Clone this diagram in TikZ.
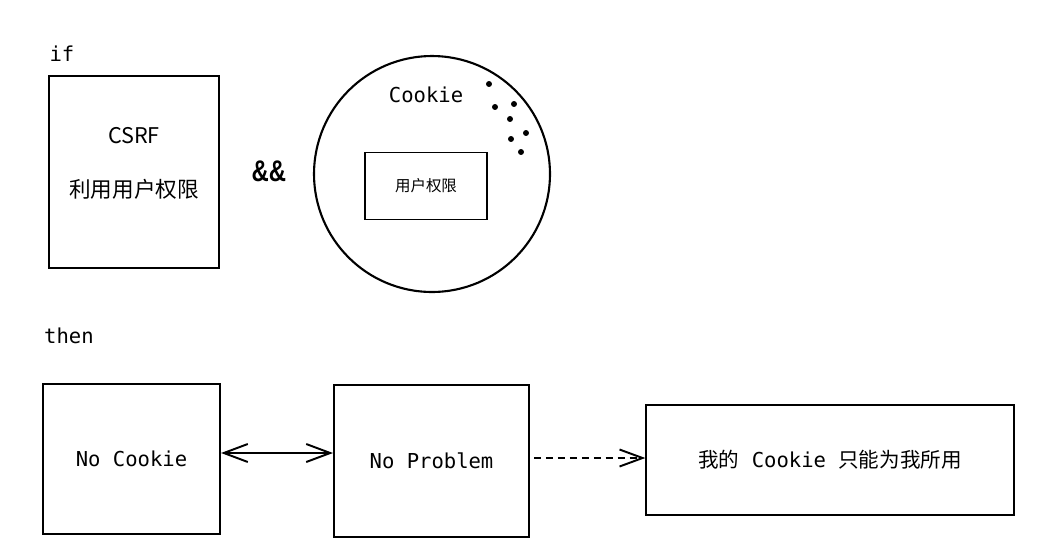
\documentclass[tikz,border=0pt]{standalone}
\usepackage{fontspec}
\setmonofont{DejaVu Sans Mono}
\newfontfamily\cjk{Noto Sans CJK SC}
\newfontfamily\ampfont{Liberation Sans Bold}
\usepackage{tikz}
\usetikzlibrary{arrows.meta}
\usetikzlibrary{calc}

\begin{document}
\begin{tikzpicture}[x=0.02cm,y=-0.02cm,
      box/.style={draw,line width=1.2pt,rectangle,inner sep=0pt},
      thinbox/.style={draw,line width=0.8pt,rectangle,inner sep=0pt},
      mono/.style={font=\ttfamily\fontsize{11.7}{14}\selectfont},
      zh/.style={font=\cjk\fontsize{12.3}{15}\selectfont},
      botharrow/.style={line width=1.1pt,{Straight Barb[length=4.8mm,width=3.6mm]}-{Straight Barb[length=4.8mm,width=3.6mm]}},
      dashedarrow/.style={line width=1.1pt,dash pattern=on 4pt off 2.8pt,-{Straight Barb[length=4.6mm,width=3.4mm]},shorten <=0.08cm}]
      
      \fill[white] (0,0) rectangle (1041,552);
      \useasboundingbox (0,0) rectangle (1041,552);
      
      %条件
      \node (ifl) at (62,54)[mono] {if};
      \node (csrfbox) at (134,172)[box,minimum width=3.4cm,minimum height=3.84cm] {};
      \node (csrf) at (134,136)[zh] {CSRF};
      \node (liyong) at (134,189)[zh] {利用用户权限};
      \node (and) at (269,171)[font=\ampfont\fontsize{17}{20}\selectfont] {\scalebox{0.8}[1]{\&\&}};
      
      %Cookie
      \node (cookie) at (432,174)[circle,draw,line width=1.2pt,minimum size=4.72cm,inner sep=0pt] {};
      \node (cookiel) at (426,95)[mono] {Cookie};
      \node (quanxian) at (426,186)[thinbox,minimum width=2.44cm,minimum height=1.34cm,font=\cjk\fontsize{8.8}{10}\selectfont] {用户权限};
      \foreach \x/\y in {489/84,495/107,514/104,510/119,526/133,511/139,521/152}  {
      	\fill (\x,\y) circle (1.7pt);
      }
      
      %结果
      \node (thenl) at (69,336)[mono] {then};
      \node (nocookie) at (131.5,459)[box,minimum width=3.54cm,minimum height=3cm,mono] {No Cookie};
      \node (noproblem) at (431.5,461)[box,minimum width=3.9cm,minimum height=3.04cm,mono] {No Problem};
      \node (mine) at (830,460)[thinbox,minimum width=7.36cm,minimum height=2.2cm,mono] {{\cjk 我的}\ Cookie\ {\cjk 只能为我所用}};
      
      \coordinate (ac) at ([yshift=0.12cm]nocookie.east);
      \draw[botharrow] (ac) -- (ac -| noproblem.west);
      \coordinate (dc) at ([yshift=0.06cm]noproblem.east);
      \draw[dashedarrow] (dc) -- (dc -| mine.west);
      
\end{tikzpicture}
\end{document}
